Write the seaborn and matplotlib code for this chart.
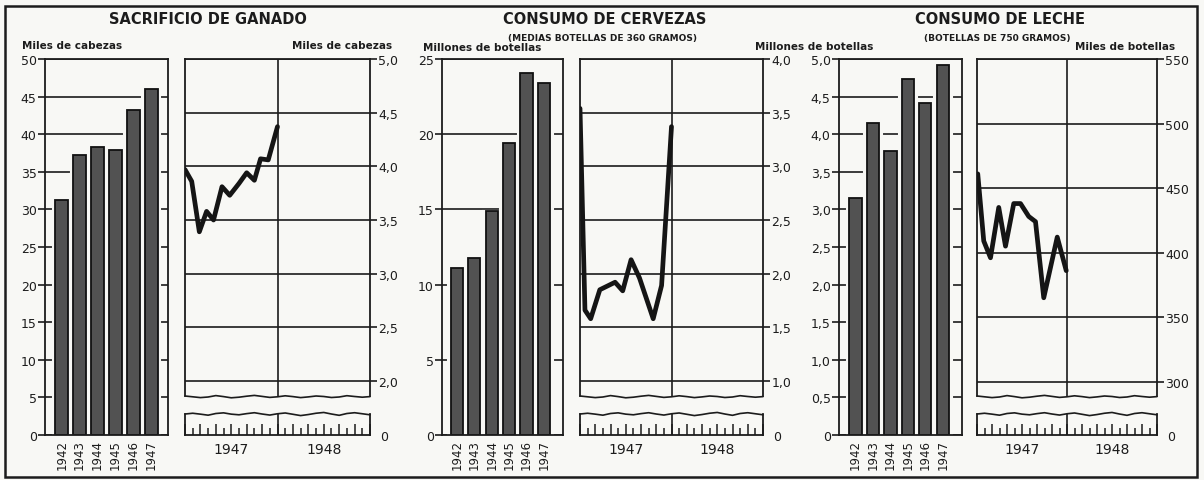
import matplotlib.pyplot as plt
import seaborn as sns
from matplotlib.patches import Rectangle

# --- Datos ---
YEARS = ['1942', '1943', '1944', '1945', '1946', '1947']

GANADO_ANUAL = [31.2, 37.2, 38.3, 37.9, 43.2, 46.0]
CERVEZA_ANUAL = [11.1, 11.8, 14.9, 19.4, 24.1, 23.4]
LECHE_ANUAL = [3.15, 4.15, 3.78, 4.74, 4.41, 4.92]

# meses contados desde enero de 1947
GANADO_MES = [0, 0.87, 1.86, 2.8, 3.7, 4.8, 5.8, 7.0, 8.0, 9.0, 9.8, 10.8, 12.0]
GANADO_MENSUAL = [3.97, 3.86, 3.39, 3.58, 3.50, 3.81, 3.73, 3.84, 3.94, 3.87, 4.07, 4.06, 4.37]

CERVEZA_MES = [0, 0.65, 1.4, 2.6, 4.6, 5.6, 6.7, 7.8, 9.6, 10.7, 12.0]
CERVEZA_MENSUAL = [3.54, 1.66, 1.58, 1.85, 1.92, 1.84, 2.13, 1.96, 1.58, 1.89, 3.37]

LECHE_MES = [0.1, 0.9, 1.8, 2.9, 3.8, 4.9, 5.8, 6.9, 7.8, 8.9, 10.7, 11.9]
LECHE_MENSUAL = [461, 409, 396, 435, 405, 438, 438, 428, 424, 365, 412, 386]

BAR_TICKS_1 = [0, 5, 10, 15, 20, 25, 30, 35, 40, 45, 50]
BAR_TICKS_2 = [0, 5, 10, 15, 20, 25]
BAR_TICKS_3 = [0, 0.5, 1.0, 1.5, 2.0, 2.5, 3.0, 3.5, 4.0, 4.5, 5.0]
LINE_TICKS_1 = [2.0, 2.5, 3.0, 3.5, 4.0, 4.5, 5.0]
LINE_TICKS_2 = [1.0, 1.5, 2.0, 2.5, 3.0, 3.5, 4.0]
LINE_TICKS_3 = [300, 350, 400, 450, 500, 550]

# --- Estilo ---
W, H = 1204, 481
PAPER = '#f8f8f5'
INK = '#1c1c1c'
BAR = '#525252'
# ondulación del corte del eje (en píxeles)
WAVE = [0, 0.8, 1.6, 1.0, -0.4, 0.6, 1.8, 1.2, 0.2, -0.6, 0.4, 1.4, 0.8,
        -0.2, 0.6, 1.6, 0.9, 0.0, 0.5, 1.5, 1.0, -0.3, 0.5, 1.2, 0.6]

sns.set_theme(style='white')
plt.rcParams['font.family'] = ['DejaVu Sans']
plt.rcParams['axes.edgecolor'] = INK
plt.rcParams['axes.linewidth'] = 1.3


def box(x0, x1, y0, y1):
    return [x0 / W, 1 - y1 / H, (x1 - x0) / W, (y1 - y0) / H]


def fmt(v):
    return f'{v:.1f}'.replace('.', ',') if isinstance(v, float) else str(v)


def fig_text(fig, x, y, s, **kw):
    fig.text(x / W, 1 - y / H, s, color=INK, **kw)


def bar_panel(fig, x0, x1, values, ticks, xlim):
    ax = fig.add_axes(box(x0, x1, 60, 436))
    ax.set_facecolor(PAPER)
    # fondo blanco tras las barras para ocultar la cuadrícula entre ellas
    sns.barplot(x=YEARS, y=values, ax=ax, color=PAPER, saturation=1,
                width=1.0, edgecolor=PAPER, linewidth=1.5, zorder=2)
    sns.barplot(x=YEARS, y=values, ax=ax, color=BAR, saturation=1,
                width=0.7, edgecolor='#111111', linewidth=1.3, zorder=3)
    ax.set_ylim(ticks[0], ticks[-1])
    ax.set_xlim(*xlim)
    ax.set_yticks(ticks)
    ax.set_yticklabels([fmt(t) for t in ticks])
    ax.yaxis.grid(True, color=INK, lw=1.2)
    ax.set_axisbelow(True)
    ax.tick_params(axis='y', direction='out', length=5, width=1.2,
                   color=INK, labelsize=9, labelcolor=INK, pad=1, left=True)
    ax.tick_params(axis='x', length=0, labelsize=8.5, labelcolor=INK,
                   rotation=90, pad=3)
    ax.set_xlabel('')
    ax.set_ylabel('')
    for s in ax.spines.values():
        s.set_color(INK)
        s.set_zorder(5)
    return ax


def line_panel(fig, x0, x1, months, values, ticks, ybot):
    # parte superior con la serie mensual
    ax = fig.add_axes(box(x0, x1, 60, 397))
    ax.set_facecolor(PAPER)
    ax.set_xlim(0, 24)
    ax.set_ylim(ybot, ticks[-1])
    ax.yaxis.tick_right()
    ax.set_yticks(ticks)
    ax.set_yticklabels([fmt(t) for t in ticks])
    ax.set_xticks([])
    ax.yaxis.grid(True, color=INK, lw=1.2)
    ax.axvline(12, color=INK, lw=1.2)
    ax.tick_params(axis='y', direction='out', length=5, width=1.2,
                   color=INK, labelsize=9, labelcolor=INK, pad=1, right=True)
    sns.lineplot(x=months, y=values, ax=ax, color='#151515', lw=3.4, zorder=4)
    ax.set_xlabel('')
    ax.set_ylabel('')
    ax.spines['bottom'].set_visible(False)
    h = 397 - 60
    xs = list(range(len(WAVE)))
    ax.plot(xs, [-w / h for w in WAVE], color=INK, lw=1.2,
            transform=ax.get_xaxis_transform(), clip_on=False)

    # franja inferior con los meses
    st = fig.add_axes(box(x0, x1, 415, 436))
    st.set_facecolor(PAPER)
    st.set_xlim(0, 24)
    st.set_ylim(0, 1)
    st.spines['top'].set_visible(False)
    st.axvline(12, color=INK, lw=1.2)
    st.set_xticks(range(0, 25, 2))
    st.set_xticks(range(1, 25, 2), minor=True)
    st.set_xticklabels([])
    st.tick_params(axis='x', which='major', direction='in', length=8,
                   width=1.1, color=INK, bottom=True)
    st.tick_params(axis='x', which='minor', direction='in', length=5,
                   width=1.1, color=INK, bottom=True)
    st.yaxis.tick_right()
    st.set_yticks([0])
    st.set_yticklabels(['0'])
    st.tick_params(axis='y', length=0, labelsize=9, labelcolor=INK, pad=7)
    hs = 436 - 415
    st.plot(xs, [1 + (1.3 * w - 0.8) / hs for w in WAVE[::-1]], color=INK,
            lw=1.2, clip_on=False)
    for xm, label in [(6, '1947'), (18, '1948')]:
        st.text(xm, -0.35, label, ha='center', va='top', fontsize=10,
                color=INK, transform=st.get_xaxis_transform())
    return ax, st


fig = plt.figure(figsize=(W / 100, H / 100), dpi=100, facecolor=PAPER)

bar_panel(fig, 45, 168, GANADO_ANUAL, BAR_TICKS_1, (-0.93, 5.93))
line_panel(fig, 185, 370, GANADO_MES, GANADO_MENSUAL, LINE_TICKS_1, 1.86)

bar_panel(fig, 442, 563, CERVEZA_ANUAL, BAR_TICKS_2, (-0.86, 6.1))
line_panel(fig, 580, 763, CERVEZA_MES, CERVEZA_MENSUAL, LINE_TICKS_2, 0.86)

bar_panel(fig, 839, 962, LECHE_ANUAL, BAR_TICKS_3, (-0.95, 6.1))
line_panel(fig, 977, 1157, LECHE_MES, LECHE_MENSUAL, LINE_TICKS_3, 288.9)

# títulos y rótulos
fig_text(fig, 208, 20, 'SACRIFICIO DE GANADO', ha='center', va='center',
         fontsize=10.5, fontweight='bold')
fig_text(fig, 605, 20, 'CONSUMO DE CERVEZAS', ha='center', va='center',
         fontsize=10.5, fontweight='bold')
fig_text(fig, 603, 38, '(MEDIAS BOTELLAS DE 360 GRAMOS)', ha='center',
         va='center', fontsize=6.5, fontweight='bold')
fig_text(fig, 1000, 20, 'CONSUMO DE LECHE', ha='center', va='center',
         fontsize=10.5, fontweight='bold')
fig_text(fig, 997, 38, '(BOTELLAS DE 750 GRAMOS)', ha='center', va='center',
         fontsize=6.5, fontweight='bold')

fig_text(fig, 22, 46, 'Miles de cabezas', ha='left', va='center',
         fontsize=7.5, fontweight='bold')
fig_text(fig, 392, 46, 'Miles de cabezas', ha='right', va='center',
         fontsize=7.5, fontweight='bold')
fig_text(fig, 423, 48, 'Millones de botellas', ha='left', va='center',
         fontsize=7.5, fontweight='bold')
fig_text(fig, 814, 47, 'Millones de botellas', ha='center', va='center',
         fontsize=7.5, fontweight='bold')
fig_text(fig, 1175, 47, 'Miles de botellas', ha='right', va='center',
         fontsize=7.5, fontweight='bold')

# marco exterior
fig.add_artist(Rectangle((5 / W, 3 / H), 1192 / W, 471 / H, fill=False,
                         lw=1.8, edgecolor=INK, transform=fig.transFigure))

fig.savefig('out.png', dpi=100, facecolor=PAPER)
